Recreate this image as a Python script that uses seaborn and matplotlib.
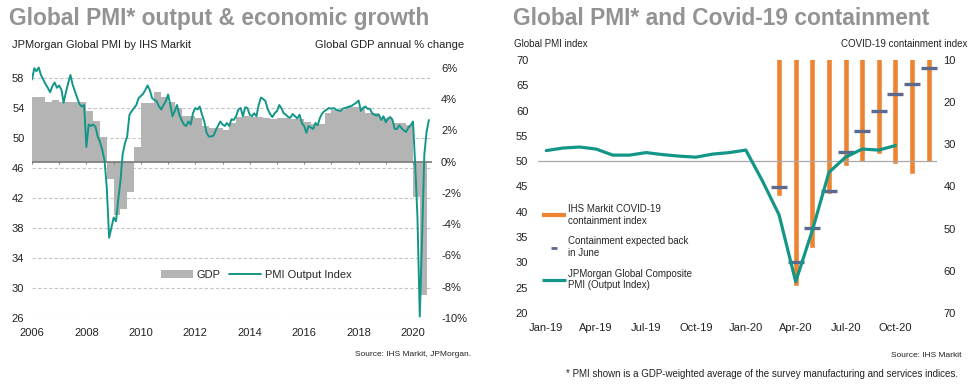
import numpy as np
import pandas as pd
import matplotlib
matplotlib.use("Agg")
import matplotlib.pyplot as plt
from matplotlib.lines import Line2D
from matplotlib.patches import Patch
import seaborn as sns

# -----------------------------
# LEFT PANEL DATA
# -----------------------------
# JPMorgan Global PMI output index, monthly from Jan 2006 to Aug 2020
pmi_output = [
    57.8, 59.3, 58.9, 59.4, 58.4, 57.8, 57.2, 56.7, 56.1, 56.9, 57.4, 56.7,  # 2006
    57.0, 56.4, 54.7, 56.1, 57.3, 58.4, 57.1, 56.2, 55.3, 54.5, 54.2, 54.4,  # 2007
    48.8, 51.8, 51.6, 51.8, 51.5, 50.2, 49.5, 48.4, 47.0, 43.3, 36.7, 38.0,  # 2008
    39.4, 38.9, 41.6, 44.2, 47.8, 49.3, 50.2, 53.1, 53.6, 54.0, 54.4, 55.3,  # 2009
    55.6, 55.9, 56.4, 57.0, 56.4, 55.3, 55.1, 54.9, 54.2, 53.8, 54.4, 54.9,  # 2010
    55.8, 54.4, 52.9, 53.6, 54.4, 53.1, 52.4, 51.8, 51.6, 52.2, 51.8, 53.3,  # 2011
    54.0, 53.8, 54.2, 53.1, 52.2, 50.7, 50.2, 50.2, 50.3, 51.0, 51.6, 52.2,  # 2012
    51.8, 51.6, 52.0, 51.6, 52.5, 52.4, 52.9, 53.8, 54.0, 52.9, 54.1, 54.0,  # 2013
    53.1, 52.9, 53.3, 52.9, 54.4, 55.4, 55.2, 54.9, 53.8, 53.2, 52.8, 53.3,  # 2014
    53.6, 54.4, 54.0, 53.3, 53.1, 52.8, 52.7, 53.2, 52.9, 52.6, 53.1, 52.0,  # 2015
    51.6, 50.7, 51.6, 51.4, 51.2, 52.0, 51.7, 52.7, 53.3, 53.6, 53.8, 54.0,  # 2016
    53.9, 54.0, 53.8, 53.7, 53.6, 53.9, 54.0, 54.1, 54.2, 54.3, 54.5, 54.7,  # 2017
    55.0, 53.6, 54.0, 54.2, 53.9, 53.9, 53.3, 53.1, 53.0, 53.1, 52.4, 52.9,  # 2018
    52.1, 52.6, 52.8, 52.4, 51.2, 51.2, 51.7, 51.3, 51.0, 50.8, 51.4, 51.7,  # 2019
    52.2, 46.1, 39.4, 26.2, 36.3, 47.8, 50.8, 52.4,                          # 2020
]

# Global GDP annual % change, quarterly from 2006 Q1 to 2020 Q2
gdp_growth = [
    4.15, 4.15, 3.79, 3.94,
    3.83, 3.83, 3.83, 3.79,
    3.24, 2.60, 1.56, -1.12,
    -3.40, -3.02, -1.92, 0.96,
    3.75, 3.75, 4.43, 4.15,
    3.83, 3.40, 2.90, 2.90,
    2.80, 2.28, 2.13, 2.13,
    2.02, 2.45, 2.87, 2.90,
    2.85, 2.85, 2.80, 2.75,
    2.80, 2.80, 2.75, 2.70,
    2.50, 2.40, 2.40, 3.10,
    3.30, 3.30, 3.50, 3.50,
    3.40, 3.10, 3.10, 2.77,
    2.77, 2.45, 2.45, 2.34,
    -2.24, -8.50,
]

pmi_ticks = list(range(26, 59, 4))
gdp_ticks = list(range(-10, 7, 2))

# -----------------------------
# RIGHT PANEL DATA
# -----------------------------
months = list(pd.date_range("2019-01-01", "2020-12-01", freq="MS").strftime("%b-%y"))

composite_pmi = [52.1, 52.6, 52.8, 52.4, 51.2, 51.2, 51.7, 51.3, 51.0, 50.8, 51.4, 51.7,
                 52.2, 46.1, 39.4, 26.2, 36.3, 47.8, 50.8, 52.4, 52.2, 53.1]

containment_months = months[14:]  # Mar-20 .. Dec-20
containment_index = [42.3, 63.6, 54.6, 41.8, 35.1, 34.2, 32.3, 34.7, 37.0, 34.3]
containment_expected = [40.1, 57.9, 49.8, 41.0, 31.8, 26.8, 22.1, 18.1, 15.7, 12.0]

# -----------------------------
# STYLE
# -----------------------------
sns.set_style("white")
plt.rcParams["font.family"] = ["Liberation Sans", "DejaVu Sans"]

TEAL = "#139688"
GRAY_AREA = "#b4b4b4"
ZERO_GRAY = "#808080"
GRID_GRAY = "#c4c4c4"
TITLE_GRAY = "#939393"
TEXT = "#222222"
ORANGE = "#ee8432"
SLATE = "#5b6a8e"

W, H = 980, 390
fig = plt.figure(figsize=(W / 100, H / 100), dpi=100)


def rect(x0, y0, x1, y1):
    return [x0 / W, 1 - y1 / H, (x1 - x0) / W, (y1 - y0) / H]


def clean(ax):
    for s in ax.spines.values():
        s.set_visible(False)


# -----------------------------
# LEFT PANEL
# -----------------------------
left_rect = rect(32, 55.5, 432, 318)
ax_grid = fig.add_axes(left_rect)
ax_gdp = ax_grid.twinx()
ax_pmi = fig.add_axes(left_rect, sharex=ax_grid, sharey=ax_grid)
ax_pmi.patch.set_visible(False)

pmi_dates = pd.date_range("2006-01-01", periods=len(pmi_output), freq="MS")
gdp_edges = pd.date_range("2006-01-01", periods=len(gdp_growth) + 1, freq="QS")
gdp_steps = gdp_growth + [gdp_growth[-1]]

ax_gdp.fill_between(gdp_edges, gdp_steps, 0, step="post", color=GRAY_AREA, lw=0)
ax_gdp.axhline(0, color=ZERO_GRAY, lw=1.3)
year_marks = pd.date_range("2006-01-01", "2020-01-01", freq="YS")
ax_gdp.vlines(year_marks, -0.18, 0, color=ZERO_GRAY, lw=0.8)

sns.lineplot(x=pmi_dates, y=pmi_output, ax=ax_pmi, color=TEAL, lw=1.4)

ax_grid.set_xlim(pd.Timestamp("2006-01-01"), pd.Timestamp("2020-09-12"))
ax_grid.set_ylim(26, 61)
ax_grid.set_yticks(pmi_ticks)
ax_grid.yaxis.grid(True, color=GRID_GRAY, lw=0.8, ls=(0, (3, 2)))
ax_grid.xaxis.grid(False)
label_years = pd.date_range("2006-01-01", "2020-01-01", freq="2YS")
ax_grid.set_xticks(label_years, labels=[str(d.year) for d in label_years])
ax_grid.tick_params(axis="both", length=0, labelsize=8, colors=TEXT)
ax_grid.tick_params(axis="y", pad=5.5)
ax_grid.tick_params(axis="x", pad=7)

ax_gdp.set_ylim(-10, 6.78)
ax_gdp.set_yticks(gdp_ticks, labels=[f"{v}%" for v in gdp_ticks])
ax_gdp.tick_params(axis="y", length=0, labelsize=8, colors=TEXT, pad=6.5)
ax_gdp.grid(False)

ax_pmi.axis("off")
ax_pmi.set_xlabel("")
for a in (ax_grid, ax_gdp, ax_pmi):
    clean(a)

left_handles = [Patch(facecolor=GRAY_AREA, edgecolor="none", label="GDP"),
                Line2D([], [], color=TEAL, lw=1.4, label="PMI Output Index")]
fig.legend(handles=left_handles, loc="center", bbox_to_anchor=(256 / W, 1 - 275 / H),
           ncol=2, frameon=False, fontsize=8, handlelength=2.9, handletextpad=0.3,
           columnspacing=0.8, borderpad=0)

fig.text(9 / W, 1 - 25 / H, "Global PMI* output & economic growth", fontsize=16.4,
         fontweight="bold", color=TITLE_GRAY, va="baseline")
fig.text(12 / W, 1 - 48 / H, "JPMorgan Global PMI by IHS Markit", fontsize=8,
         color=TEXT, va="baseline")
fig.text(464 / W, 1 - 48 / H, "Global GDP annual % change", fontsize=8, ha="right",
         color=TEXT, va="baseline")
fig.text(471 / W, 1 - 356 / H, "Source: IHS Markit, JPMorgan.", fontsize=6, ha="right",
         color=TEXT, va="baseline")

# -----------------------------
# RIGHT PANEL
# -----------------------------
ax_r = fig.add_axes(rect(538, 60, 937, 313))
ax_c = ax_r.twinx()
ax_r.set_zorder(ax_c.get_zorder() + 1)
ax_r.patch.set_visible(False)

df_c = pd.DataFrame({"month": containment_months,
                     "containment": containment_index,
                     "expected": containment_expected})
sns.barplot(data=df_c, x="month", y="containment", order=months, ax=ax_c,
            color=ORANGE, saturation=1, width=0.36)
pos_c = [months.index(m) for m in containment_months]
ax_c.plot(pos_c, df_c["expected"], ls="", marker="_", ms=12, mew=2.4, color=SLATE)

ax_c.set_ylim(70, 10)
ax_c.set_yticks(range(10, 71, 10))
ax_c.tick_params(axis="y", length=0, labelsize=8, colors=TEXT, pad=4.5)
ax_c.set_xlabel("")
ax_c.set_ylabel("")
ax_c.grid(False)

sns.lineplot(x=np.arange(len(composite_pmi)), y=composite_pmi, ax=ax_r, color=TEAL, lw=2.3)
ax_r.axhline(50, color="#a8a8a8", lw=0.9, zorder=0)
ax_r.set_ylim(20, 70)
ax_r.set_yticks(range(20, 71, 5))
ax_r.set_xlim(-0.5, len(months) - 0.5)
ax_r.set_xticks(range(0, len(months), 3), labels=months[::3])
ax_r.tick_params(axis="both", length=0, labelsize=8, colors=TEXT)
ax_r.tick_params(axis="y", pad=7)
ax_r.tick_params(axis="x", pad=7)
ax_r.grid(False)
for a in (ax_r, ax_c):
    clean(a)

right_handles = [
    Line2D([], [], color=ORANGE, lw=3, solid_capstyle="butt",
           label="IHS Markit COVID-19\ncontainment index"),
    Line2D([], [], color=SLATE, ls="", marker="_", ms=5, mew=2,
           label="Containment expected back\nin June"),
    Line2D([], [], color=TEAL, lw=2.3, solid_capstyle="butt",
           label="JPMorgan Global Composite\nPMI (Output Index)"),
]
ax_r.legend(handles=right_handles, loc="upper left", bbox_to_anchor=(542 / W, 1 - 204 / H),
            bbox_transform=fig.transFigure, frameon=False, fontsize=7, handlelength=2.5,
            handletextpad=0.2, labelspacing=1.1, borderpad=0, borderaxespad=0)

fig.text(513 / W, 1 - 25 / H, "Global PMI* and Covid-19 containment", fontsize=16.4,
         fontweight="bold", color=TITLE_GRAY, va="baseline")
fig.text(514 / W, 1 - 47 / H, "Global PMI index", fontsize=7, color=TEXT, va="baseline")
fig.text(967 / W, 1 - 47 / H, "COVID-19 containment index", fontsize=7, ha="right",
         color=TEXT, va="baseline")
fig.text(961 / W, 1 - 357 / H, "Source: IHS Markit", fontsize=6, ha="right",
         color=TEXT, va="baseline")
fig.text(958 / W, 1 - 377 / H,
         "* PMI shown is a GDP-weighted average of the survey manufacturing and services indices.",
         fontsize=7, ha="right", color=TEXT, va="baseline")

fig.savefig("out.png", dpi=100)
